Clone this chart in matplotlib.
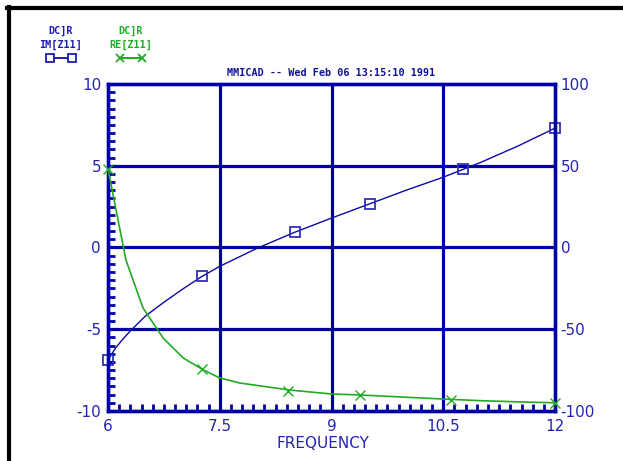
import matplotlib
matplotlib.use("Agg")
import matplotlib.pyplot as plt
from matplotlib.lines import Line2D

# ---- data ----
blue_x = [6.0, 6.1, 6.2, 6.3, 6.5, 6.75, 7.0, 7.25, 7.5, 8.0, 8.5, 9.0, 9.5, 10.0, 10.5, 11.0, 11.5, 12.0]
blue_y = [-6.88, -6.15, -5.6, -5.1, -4.2, -3.35, -2.55, -1.8, -1.15, -0.05, 0.92, 1.8, 2.65, 3.5, 4.3, 5.2, 6.2, 7.3]
blue_mx = [6.0, 7.26, 8.51, 9.52, 10.77, 12.0]
blue_my = [-6.88, -1.74, 0.95, 2.66, 4.8, 7.31]

green_x = [6.0, 6.24, 6.47, 6.74, 7.01, 7.28, 7.5, 7.77, 8.44, 9.0, 9.38, 10.5, 11.0, 11.5, 12.0]
green_y = [48, -7.6, -37, -55.4, -67.6, -74.9, -79.8, -82.9, -87.2, -89.6, -90.2, -92.7, -93.7, -94.4, -95]
green_mx = [6.0, 7.26, 8.42, 9.38, 10.6, 12.0]
green_my = [48, -74.5, -87.8, -90.2, -93.3, -95]

x_ticks = [6, 7.5, 9, 10.5, 12]
x_labels = ["6", "7.5", "9", "10.5", "12"]
yl_ticks = [-10, -5, 0, 5, 10]
yr_ticks = [-100, -50, 0, 50, 100]

title = "MMICAD -- Wed Feb 06 13:15:10 1991"
leg1 = ["DC]R", "IM[Z11]"]
leg2 = ["DC]R", "RE[Z11]"]

AX = "#0000a8"
TXT = "#2424b4"
BLUE = "#0a0aa8"
GREEN = "#22aa22"

fig = plt.figure(figsize=(6.23, 4.61), dpi=100)
ax = fig.add_axes([0.1734, 0.1085, 0.7175, 0.7093])
ax.set_xlim(6, 12)
ax.set_ylim(-10, 10)

# grid
for v in x_ticks[1:-1]:
    ax.axvline(v, color=AX, lw=2.3, zorder=1)
for v in yl_ticks[1:-1]:
    ax.axhline(v, color=AX, lw=2.3, zorder=1)
for s in ax.spines.values():
    s.set_color(AX)
    s.set_linewidth(2.4)

ax.plot(blue_x, blue_y, color=BLUE, lw=1.0, zorder=3)
ax.plot(blue_mx, blue_my, ls="none", marker="s", ms=7, mfc="none", mec="#3030b8", mew=1.3, zorder=4, clip_on=False)

ax.set_xticks(x_ticks)
ax.set_xticklabels(x_labels)
ax.set_yticks(yl_ticks)
ax.set_yticklabels([str(v) for v in yl_ticks])
ax.set_xticks([6 + 0.15 * i for i in range(41)], minor=True)
ax.set_yticks([-10 + 0.5 * i for i in range(41)], minor=True)
ax.tick_params(axis="both", which="major", length=0, labelsize=11, labelcolor=TXT)
ax.tick_params(axis="x", which="major", pad=6)
ax.tick_params(axis="y", which="major", pad=5)
ax.tick_params(axis="both", which="minor", direction="in", length=5, width=2, color=AX)
ax.tick_params(axis="x", which="minor", top=False)
ax.set_xlabel("FREQUENCY", fontsize=11, color=TXT, labelpad=1)
ax.xaxis.set_label_coords(0.48, -0.075)

ax2 = ax.twinx()
ax2.set_ylim(-100, 100)
ax2.set_yticks(yr_ticks)
ax2.set_yticklabels([str(v) for v in yr_ticks])
ax2.tick_params(axis="y", length=0, labelsize=11, labelcolor=TXT, pad=4)
for s in ax2.spines.values():
    s.set_color(AX)
    s.set_linewidth(2.4)
ax2.plot(green_x, green_y, color=GREEN, lw=1.2, zorder=3)
ax2.plot(green_mx, green_my, ls="none", marker="x", ms=7, mec=GREEN, mew=1.0, zorder=4, clip_on=False)

ax.set_title(title, fontsize=7.3, color="#10109c", family="DejaVu Sans Mono", weight="bold", pad=6)

# legend blocks
def legend_block(xc, lines, color, marker):
    fig.text(xc / 623, 1 - 31 / 461, lines[0], ha="center", va="center", fontsize=7.3,
             family="DejaVu Sans Mono", weight="bold", color=color)
    fig.text(xc / 623, 1 - 45 / 461, lines[1], ha="center", va="center", fontsize=7.3,
             family="DejaVu Sans Mono", weight="bold", color=color)
    y = 1 - 58 / 461
    x0, x1 = (xc - 11) / 623, (xc + 11) / 623
    fig.add_artist(Line2D([x0, x1], [y, y], color=color, lw=1.4))
    fig.add_artist(Line2D([x0, x1], [y, y], ls="none", marker=marker, ms=6,
                          mfc="white" if marker == "s" else color, mec=color, mew=1.3))

legend_block(61, leg1, "#1c1cb0", "s")
legend_block(131, leg2, GREEN, "x")

# black frame (top + left)
fig.add_artist(Line2D([7 / 623, 1], [1 - 8.5 / 461, 1 - 8.5 / 461], color="black", lw=3))
fig.add_artist(Line2D([8.5 / 623, 8.5 / 623], [0, 1 - 7 / 461], color="black", lw=3))

fig.savefig("out.png", dpi=100)
